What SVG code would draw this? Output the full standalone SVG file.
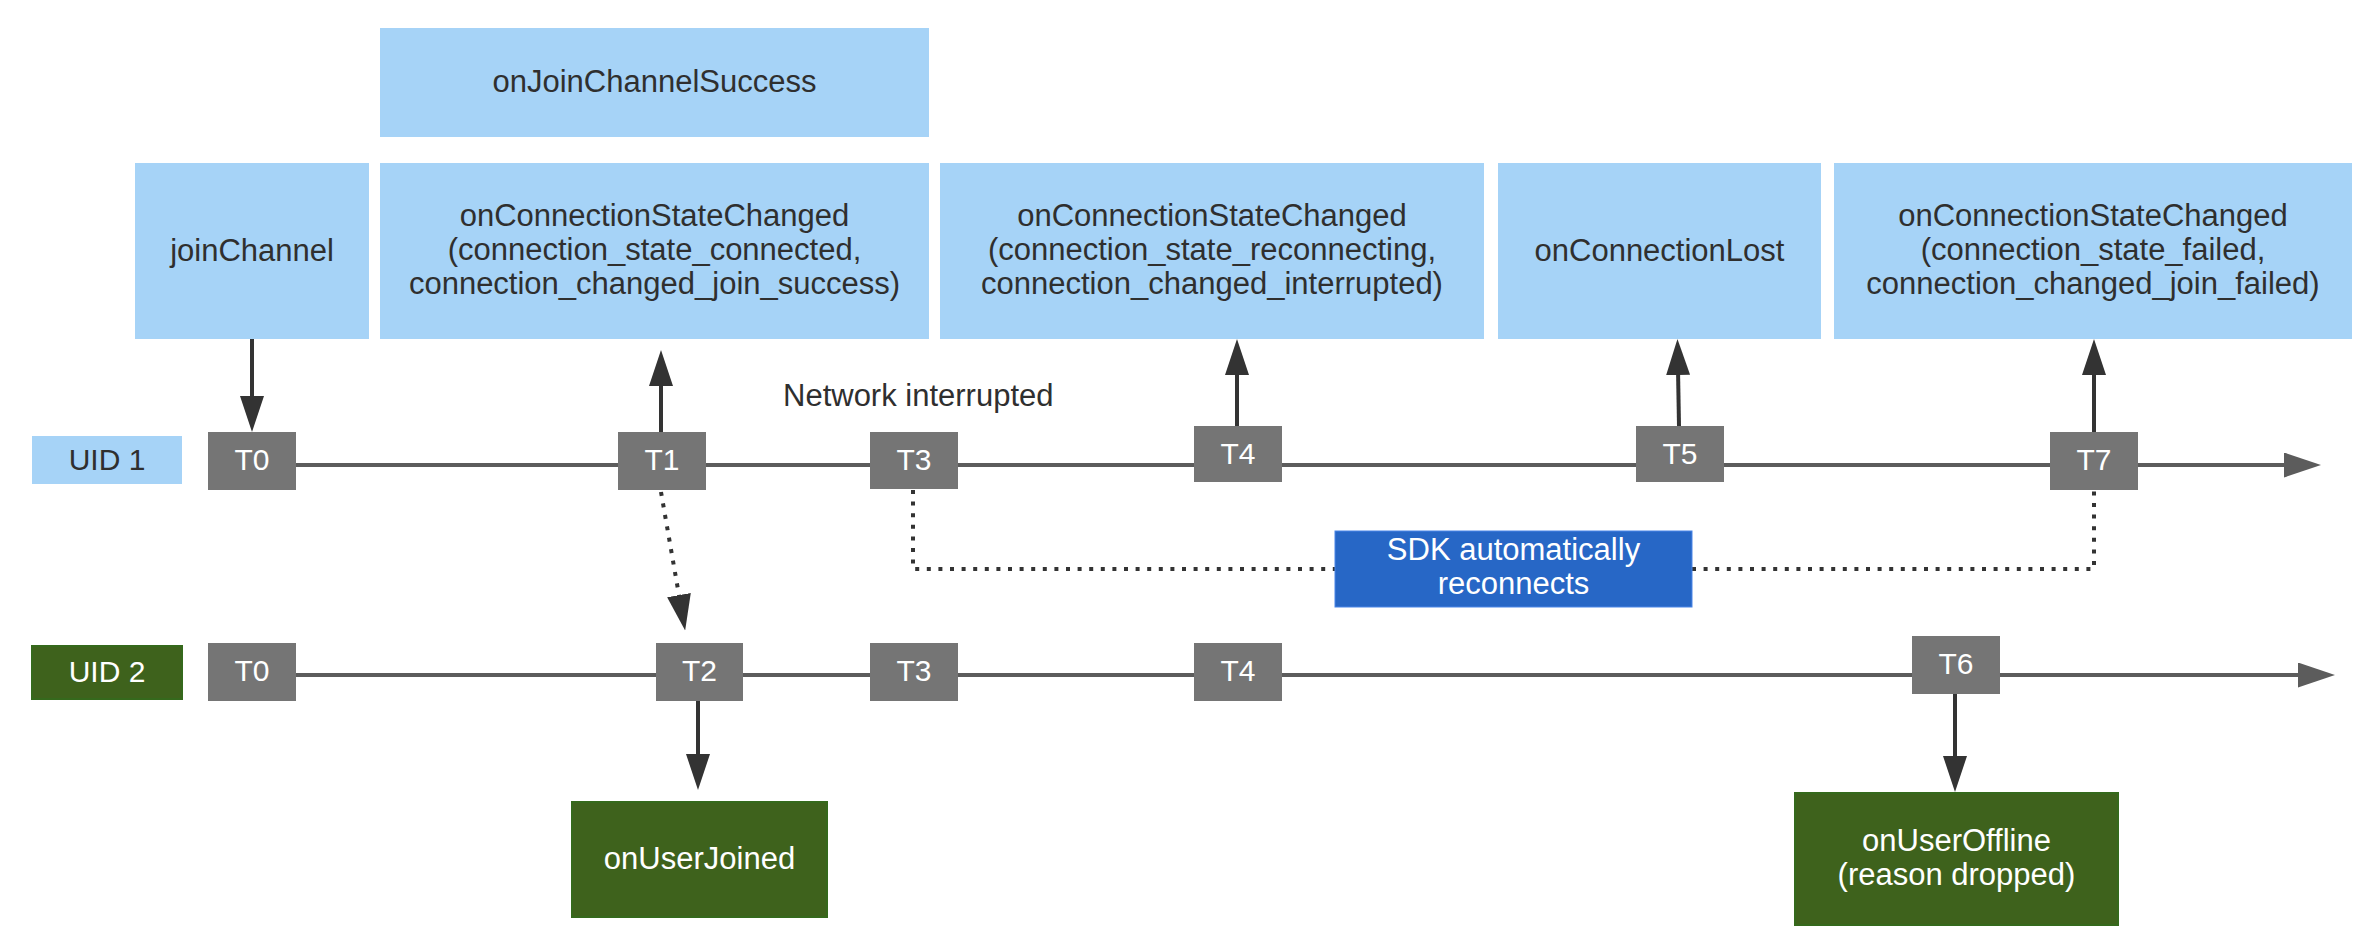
<svg xmlns="http://www.w3.org/2000/svg" width="2379" height="950" viewBox="0 0 2379 950">
<style>
text{font-family:'Liberation Sans',Arial,sans-serif;font-size:31px;text-anchor:middle}
.tk{font-size:30px}
.lb{fill:#a6d3f7}
.gr{fill:#757575}
.gn{fill:#3e621c;stroke:#35691c;stroke-width:2}
.bl{fill:#2767c6;stroke:#4a86e8;stroke-width:1}
.dk{fill:#2f2f2f}
.wt{fill:#ffffff}
.tl{fill:none;stroke:#5c5c5c;stroke-width:4}
.ar{fill:none;stroke:#333333;stroke-width:4}
.dot{fill:none;stroke:#333333;stroke-width:4;stroke-dasharray:4 7.6}
</style>
<defs>
<marker id="mtl" viewBox="0 0 37 25" markerWidth="37" markerHeight="25" refX="7" refY="12.5" orient="auto" markerUnits="userSpaceOnUse"><path d="M0,0 L37,12.5 L0,25 z" fill="#5c5c5c"/></marker>
<marker id="mar" viewBox="0 0 36 24" markerWidth="36" markerHeight="24" refX="6" refY="12" orient="auto" markerUnits="userSpaceOnUse"><path d="M0,0 L36,12 L0,24 z" fill="#333333"/></marker>
</defs>
<rect width="2379" height="950" fill="#ffffff"/>
<g id="connectors">
<path class="tl" d="M252,465 H2291" marker-end="url(#mtl)"/>
<path class="tl" d="M252,675 H2305" marker-end="url(#mtl)"/>
<path class="ar" d="M252,339 V402" marker-end="url(#mar)"/>
<path class="ar" d="M661,432 V380" marker-end="url(#mar)"/>
<path class="ar" d="M1237,426 V369" marker-end="url(#mar)"/>
<path class="ar" d="M1679,426 L1678,369" marker-end="url(#mar)"/>
<path class="ar" d="M2094,432 V369" marker-end="url(#mar)"/>
<path class="ar" d="M698,701 V760" marker-end="url(#mar)"/>
<path class="ar" d="M1955,694 V762" marker-end="url(#mar)"/>
<path class="dot" d="M661,492 L680,601" marker-end="url(#mar)"/>
<path class="dot" d="M913,490 V569 H1335"/>
<path class="dot" d="M1692,569 H2094 V490"/>
</g>
<g id="n-ojcs"><rect class="lb" x="380" y="28" width="549" height="109"/><text class="dk" x="654.5" y="92">onJoinChannelSuccess</text></g>
<g id="n-joinChannel"><rect class="lb" x="135" y="163" width="234" height="176"/><text class="dk" x="252" y="261">joinChannel</text></g>
<g id="n-csc1"><rect class="lb" x="380" y="163" width="549" height="176"/><text class="dk"><tspan x="654.5" y="226">onConnectionStateChanged</tspan><tspan x="654.5" y="260">(connection_state_connected,</tspan><tspan x="654.5" y="294">connection_changed_join_success)</tspan></text></g>
<g id="n-csc2"><rect class="lb" x="940" y="163" width="544" height="176"/><text class="dk"><tspan x="1212" y="226">onConnectionStateChanged</tspan><tspan x="1212" y="260">(connection_state_reconnecting,</tspan><tspan x="1212" y="294">connection_changed_interrupted)</tspan></text></g>
<g id="n-ocl"><rect class="lb" x="1498" y="163" width="323" height="176"/><text class="dk" x="1659.5" y="261">onConnectionLost</text></g>
<g id="n-csc3"><rect class="lb" x="1834" y="163" width="518" height="176"/><text class="dk"><tspan x="2093" y="226">onConnectionStateChanged</tspan><tspan x="2093" y="260">(connection_state_failed,</tspan><tspan x="2093" y="294">connection_changed_join_failed)</tspan></text></g>
<g id="lbl-network"><text class="dk" x="783" y="406" style="text-anchor:start">Network interrupted</text></g>
<g id="n-uid1"><rect class="lb" x="32" y="436" width="150" height="48"/><text class="dk tk" x="107" y="470">UID 1</text></g>
<g id="n-uid2"><rect class="gn" x="32" y="646" width="150" height="53"/><text class="wt tk" x="107" y="682">UID 2</text></g>
<g id="n-t0a"><rect class="gr" x="208" y="432" width="88" height="58"/><text class="wt tk" x="252" y="470">T0</text></g>
<g id="n-t1"><rect class="gr" x="618" y="432" width="88" height="58"/><text class="wt tk" x="662" y="470">T1</text></g>
<g id="n-t3a"><rect class="gr" x="870" y="432" width="88" height="57"/><text class="wt tk" x="914" y="470">T3</text></g>
<g id="n-t4a"><rect class="gr" x="1194" y="426" width="88" height="56"/><text class="wt tk" x="1238" y="464">T4</text></g>
<g id="n-t5"><rect class="gr" x="1636" y="426" width="88" height="56"/><text class="wt tk" x="1680" y="464">T5</text></g>
<g id="n-t7"><rect class="gr" x="2050" y="432" width="88" height="58"/><text class="wt tk" x="2094" y="470">T7</text></g>
<g id="n-sdk"><rect class="bl" x="1335" y="531" width="357" height="76"/><text class="wt"><tspan x="1513.5" y="560">SDK automatically</tspan><tspan x="1513.5" y="594">reconnects</tspan></text></g>
<g id="n-t0b"><rect class="gr" x="208" y="643" width="88" height="58"/><text class="wt tk" x="252" y="681">T0</text></g>
<g id="n-t2"><rect class="gr" x="656" y="643" width="87" height="58"/><text class="wt tk" x="699.5" y="681">T2</text></g>
<g id="n-t3b"><rect class="gr" x="870" y="643" width="88" height="58"/><text class="wt tk" x="914" y="681">T3</text></g>
<g id="n-t4b"><rect class="gr" x="1194" y="643" width="88" height="58"/><text class="wt tk" x="1238" y="681">T4</text></g>
<g id="n-t6"><rect class="gr" x="1912" y="636" width="88" height="58"/><text class="wt tk" x="1956" y="674">T6</text></g>
<g id="n-ouj"><rect class="gn" x="572" y="802" width="255" height="115"/><text class="wt" x="699.5" y="869">onUserJoined</text></g>
<g id="n-ouo"><rect class="gn" x="1795" y="793" width="323" height="132"/><text class="wt"><tspan x="1956.5" y="851">onUserOffline</tspan><tspan x="1956.5" y="885">(reason dropped)</tspan></text></g>
</svg>
